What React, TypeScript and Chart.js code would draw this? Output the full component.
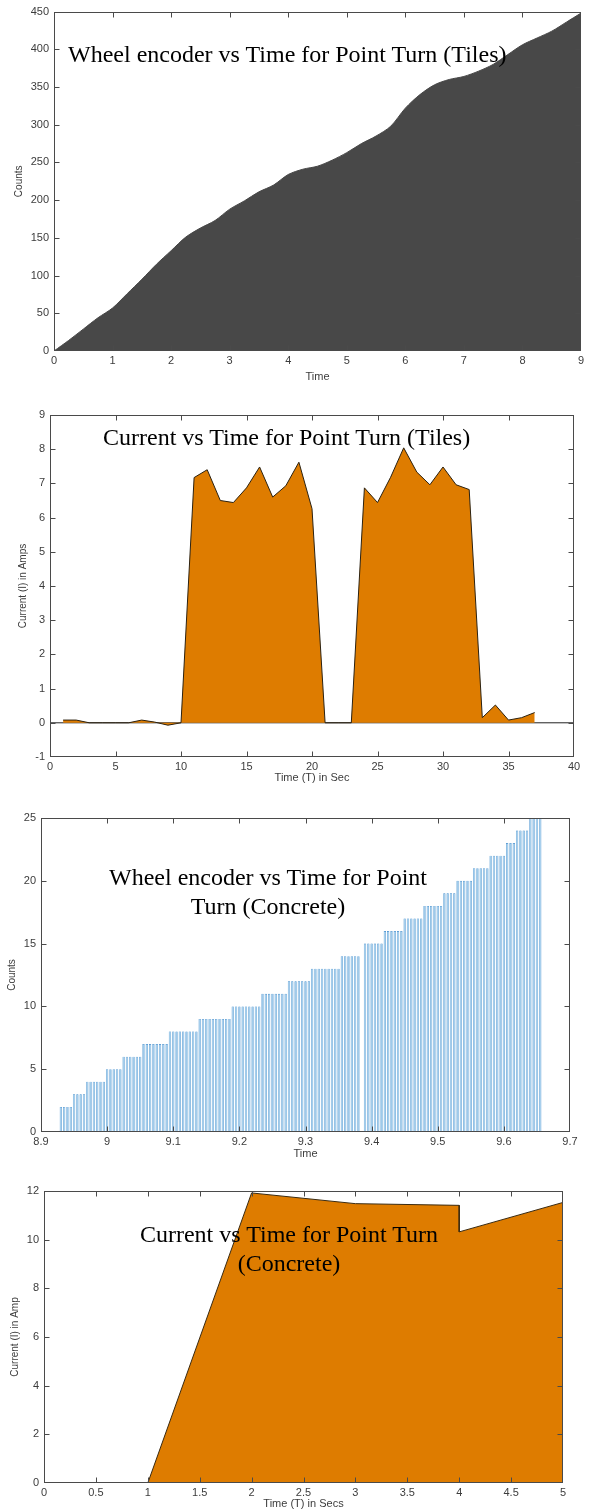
import React, { useEffect, useRef } from "react";
import { Chart, registerables } from "chart.js";

Chart.register(...registerables);

// ---------- Chart 1: Wheel encoder vs Time for Point Turn (Tiles) ----------
const tilesEncoderTime = [
  0, 0.25, 0.5, 0.75, 1, 1.25, 1.5, 1.75, 2, 2.25, 2.5, 2.75, 3, 3.25, 3.5, 3.75,
  4, 4.25, 4.5, 4.75, 5, 5.25, 5.5, 5.75, 6, 6.25, 6.5, 6.75, 7, 7.25, 7.5, 7.75,
  8, 8.25, 8.5, 8.75, 9,
];
const tilesEncoderCounts = [
  0, 14, 29, 44, 57, 76, 95, 115, 133, 151, 163, 173, 188, 199, 211, 220,
  234, 241, 245, 253, 263, 275, 285, 298, 322, 340, 353, 360, 364, 371, 380, 393,
  406, 415, 424, 436, 448,
];

// ---------- Chart 2: Current vs Time for Point Turn (Tiles) ----------
const tilesCurrentTime = [
  1, 2, 3, 4, 5, 6, 7, 8, 9, 10, 11, 12, 13, 14, 15, 16, 17, 18, 19, 20,
  21, 22, 23, 24, 25, 26, 27, 28, 29, 30, 31, 32, 33, 34, 35, 36, 37,
];
const tilesCurrentAmps = [
  0.08, 0.08, 0, 0, 0, 0, 0.08, 0.02, -0.07, 0, 7.17, 7.4, 6.5, 6.44, 6.87, 7.48, 6.6, 6.93, 7.62, 6.26,
  0, 0, 0, 6.87, 6.44, 7.18, 8.04, 7.33, 6.96, 7.48, 6.96, 6.82, 0.15, 0.52, 0.08, 0.15, 0.3,
];

// ---------- Chart 3: Wheel encoder vs Time for Point Turn (Concrete) ----------
const concreteEncoderTime = [
  8.930, 8.935, 8.940, 8.945,
  8.950, 8.955, 8.960, 8.965,
  8.970, 8.975, 8.980, 8.985, 8.990, 8.995,
  9.000, 9.005, 9.010, 9.015, 9.020,
  9.025, 9.030, 9.035, 9.040, 9.045, 9.050,
  9.055, 9.060, 9.065, 9.070, 9.075, 9.080, 9.085, 9.090,
  9.095, 9.100, 9.105, 9.110, 9.115, 9.120, 9.125, 9.130, 9.135,
  9.140, 9.145, 9.150, 9.155, 9.160, 9.165, 9.170, 9.175, 9.180, 9.185,
  9.190, 9.195, 9.200, 9.205, 9.210, 9.215, 9.220, 9.225, 9.230,
  9.235, 9.240, 9.245, 9.250, 9.255, 9.260, 9.265, 9.270,
  9.275, 9.280, 9.285, 9.290, 9.295, 9.300, 9.305,
  9.310, 9.315, 9.320, 9.325, 9.330, 9.335, 9.340, 9.345, 9.350,
  9.355, 9.360, 9.365, 9.370, 9.375, 9.380,
  9.390, 9.395, 9.400, 9.405, 9.410, 9.415,
  9.420, 9.425, 9.430, 9.435, 9.440, 9.445,
  9.450, 9.455, 9.460, 9.465, 9.470, 9.475,
  9.480, 9.485, 9.490, 9.495, 9.500, 9.505,
  9.510, 9.515, 9.520, 9.525,
  9.530, 9.535, 9.540, 9.545, 9.550,
  9.555, 9.560, 9.565, 9.570, 9.575,
  9.580, 9.585, 9.590, 9.595, 9.600,
  9.605, 9.610, 9.615,
  9.620, 9.625, 9.630, 9.635,
  9.640, 9.645, 9.650, 9.655,
];
const concreteEncoderCounts = [
  2, 2, 2, 2,
  3, 3, 3, 3,
  4, 4, 4, 4, 4, 4,
  5, 5, 5, 5, 5,
  6, 6, 6, 6, 6, 6,
  7, 7, 7, 7, 7, 7, 7, 7,
  8, 8, 8, 8, 8, 8, 8, 8, 8,
  9, 9, 9, 9, 9, 9, 9, 9, 9, 9,
  10, 10, 10, 10, 10, 10, 10, 10, 10,
  11, 11, 11, 11, 11, 11, 11, 11,
  12, 12, 12, 12, 12, 12, 12,
  13, 13, 13, 13, 13, 13, 13, 13, 13,
  14, 14, 14, 14, 14, 14,
  15, 15, 15, 15, 15, 15,
  16, 16, 16, 16, 16, 16,
  17, 17, 17, 17, 17, 17,
  18, 18, 18, 18, 18, 18,
  19, 19, 19, 19,
  20, 20, 20, 20, 20,
  21, 21, 21, 21, 21,
  22, 22, 22, 22, 22,
  23, 23, 23,
  24, 24, 24, 24,
  25, 25, 25, 25,
];

// ---------- Chart 4: Current vs Time for Point Turn (Concrete) ----------
const concreteCurrentTime = [0, 1, 2, 3, 4, 4, 5];
const concreteCurrentAmps = [0, 0, 11.92, 11.48, 11.41, 10.32, 11.53];

const ORANGE = "#de7c00";
const TICK_COLOR = "#3c3c3c";
const SANS = "'Liberation Sans', Arial, sans-serif";

const matlabBox = {
  id: "matlabBox",
  afterDatasetsDraw(chart: any) {
    const { ctx, chartArea: a, scales } = chart;
    const x = scales.x;
    const y = scales.y;
    const L = 5;
    ctx.save();
    ctx.strokeStyle = "#4a4a4a";
    ctx.lineWidth = 1;
    const l = Math.round(a.left) + 0.5;
    const r = Math.round(a.right) - 0.5;
    const t = Math.round(a.top) + 0.5;
    const b = Math.round(a.bottom) - 0.5;
    ctx.strokeRect(l, t, r - l, b - t);
    ctx.beginPath();
    x.ticks.forEach((tk: any) => {
      const p = Math.min(r, Math.max(l, Math.round(x.getPixelForValue(tk.value)) + 0.5));
      ctx.moveTo(p, b);
      ctx.lineTo(p, b - L);
      ctx.moveTo(p, t);
      ctx.lineTo(p, t + L);
    });
    y.ticks.forEach((tk: any) => {
      const p = Math.min(b, Math.max(t, Math.round(y.getPixelForValue(tk.value)) + 0.5));
      ctx.moveTo(l, p);
      ctx.lineTo(l + L, p);
      ctx.moveTo(r, p);
      ctx.lineTo(r - L, p);
    });
    ctx.stroke();
    ctx.restore();
  },
};

type AxisSpec = {
  xmin: number; xmax: number; xstep: number;
  ymin: number; ymax: number; ystep: number;
  xtitle: string; ytitle: string;
  yWidth: number; xHeight: number; xTitlePad: number;
};

function makeScales(s: AxisSpec) {
  const fmt = (v: any) => String(Math.round(Number(v) * 100) / 100);
  return {
    x: {
      type: "linear",
      min: s.xmin,
      max: s.xmax,
      offset: false,
      grid: { display: false, drawTicks: false },
      border: { display: false },
      ticks: {
        stepSize: s.xstep,
        color: TICK_COLOR,
        font: { family: SANS, size: 11 },
        padding: 3,
        maxRotation: 0,
        autoSkip: false,
        callback: fmt,
      },
      title: {
        display: true,
        text: s.xtitle,
        color: TICK_COLOR,
        font: { family: SANS, size: 11 },
        padding: { top: 0, bottom: s.xTitlePad },
      },
      afterFit: (sc: any) => { sc.height = s.xHeight; },
    },
    y: {
      type: "linear",
      min: s.ymin,
      max: s.ymax,
      grid: { display: false, drawTicks: false },
      border: { display: false },
      ticks: {
        stepSize: s.ystep,
        color: TICK_COLOR,
        font: { family: SANS, size: 11 },
        padding: 5,
        autoSkip: false,
        callback: fmt,
      },
      title: {
        display: true,
        text: s.ytitle,
        color: TICK_COLOR,
        font: { family: SANS, size: 10 },
        padding: { top: 0, bottom: 0 },
      },
      afterFit: (sc: any) => { sc.width = s.yWidth; },
    },
  };
}

function pairs(xs: number[], ys: number[]) {
  return xs.map((x, i) => ({ x, y: ys[i] }));
}

function ChartCanvas(props: { top: number; height: number; build: () => any }) {
  const ref = useRef<HTMLCanvasElement | null>(null);
  useEffect(() => {
    if (!ref.current) return;
    const chart = new Chart(ref.current, props.build());
    return () => chart.destroy();
  }, []);
  return (
    <canvas
      ref={ref}
      width={589}
      height={props.height}
      style={{ position: "absolute", left: 0, top: props.top, width: 589, height: props.height, display: "block" }}
    />
  );
}

const baseOptions = (padding: any, scales: any) => ({
  responsive: false,
  animation: false,
  devicePixelRatio: 1,
  layout: { padding },
  plugins: { legend: { display: false }, tooltip: { enabled: false }, title: { display: false } },
  scales,
});

function buildChart1() {
  return {
    type: "line",
    data: {
      datasets: [
        {
          data: pairs(tilesEncoderTime, tilesEncoderCounts),
          borderColor: "#484848",
          backgroundColor: "#484848",
          borderWidth: 1,
          fill: "origin",
          pointRadius: 0,
          tension: 0.3,
        },
      ],
    },
    options: baseOptions(
      { left: 13, right: 8, top: 10, bottom: 0 },
      makeScales({
        xmin: 0, xmax: 9, xstep: 1, ymin: 0, ymax: 450, ystep: 50,
        xtitle: "Time", ytitle: "Counts", yWidth: 41, xHeight: 37, xTitlePad: 4,
      })
    ),
    plugins: [matlabBox],
  };
}

function buildChart2() {
  return {
    type: "line",
    data: {
      datasets: [
        {
          data: pairs(tilesCurrentTime, tilesCurrentAmps),
          borderColor: "#2b2110",
          backgroundColor: ORANGE,
          borderWidth: 1,
          fill: "origin",
          pointRadius: 0,
          tension: 0,
        },
        {
          data: pairs([0, 40], [0, 0]),
          borderColor: "#222222",
          borderWidth: 1,
          fill: false,
          pointRadius: 0,
        },
      ],
    },
    options: baseOptions(
      { left: 17, right: 15, top: 20, bottom: 0 },
      makeScales({
        xmin: 0, xmax: 40, xstep: 5, ymin: -1, ymax: 9, ystep: 1,
        xtitle: "Time (T) in Sec", ytitle: "Current (I) in Amps", yWidth: 33, xHeight: 32, xTitlePad: 4,
      })
    ),
    plugins: [matlabBox],
  };
}

function buildChart3() {
  return {
    type: "bar",
    data: {
      datasets: [
        {
          data: pairs(concreteEncoderTime, concreteEncoderCounts),
          backgroundColor: "#9dcaea",
          borderColor: "#3a88cb",
          borderWidth: 0.6,
          borderSkipped: false,
          barPercentage: 0.7,
          categoryPercentage: 1,
        },
      ],
    },
    options: baseOptions(
      { left: 6, right: 19, top: 28, bottom: 0 },
      makeScales({
        xmin: 8.9, xmax: 9.7, xstep: 0.1, ymin: 0, ymax: 25, ystep: 5,
        xtitle: "Time", ytitle: "Counts", yWidth: 35, xHeight: 33, xTitlePad: 4,
      })
    ),
    plugins: [matlabBox],
  };
}

function buildChart4() {
  return {
    type: "line",
    data: {
      datasets: [
        {
          data: pairs(concreteCurrentTime, concreteCurrentAmps),
          borderColor: "#3a2a10",
          backgroundColor: ORANGE,
          borderWidth: 1,
          fill: "origin",
          pointRadius: 0,
          tension: 0,
        },
      ],
    },
    options: baseOptions(
      { left: 9, right: 26, top: 26, bottom: 0 },
      makeScales({
        xmin: 0, xmax: 5, xstep: 0.5, ymin: 0, ymax: 12, ystep: 2,
        xtitle: "Time (T) in Secs", ytitle: "Current (I) in Amp", yWidth: 35, xHeight: 28, xTitlePad: 0,
      })
    ),
    plugins: [matlabBox],
  };
}

const serif: React.CSSProperties = {
  position: "absolute",
  fontFamily: "'Liberation Serif', 'Times New Roman', serif",
  fontSize: 24,
  lineHeight: "29px",
  color: "#000",
  whiteSpace: "nowrap",
  zIndex: 2,
};

export default function App() {
  return (
    <div style={{ position: "absolute", left: 0, top: 0, width: 589, height: 1511, background: "#fff", overflow: "hidden" }}>
      <ChartCanvas top={0} height={388} build={buildChart1} />
      <ChartCanvas top={395} height={394} build={buildChart2} />
      <ChartCanvas top={790} height={375} build={buildChart3} />
      <ChartCanvas top={1165} height={346} build={buildChart4} />
      <div style={{ ...serif, left: 68, top: 40 }}>Wheel encoder vs Time for Point Turn (Tiles)</div>
      <div style={{ ...serif, left: 103, top: 423 }}>Current vs Time for Point Turn (Tiles)</div>
      <div style={{ ...serif, left: 68, top: 863, width: 400, textAlign: "center" }}>
        Wheel encoder vs Time for Point
        <br />
        Turn (Concrete)
      </div>
      <div style={{ ...serif, left: 89, top: 1220, width: 400, textAlign: "center" }}>
        Current vs Time for Point Turn
        <br />
        (Concrete)
      </div>
    </div>
  );
}
